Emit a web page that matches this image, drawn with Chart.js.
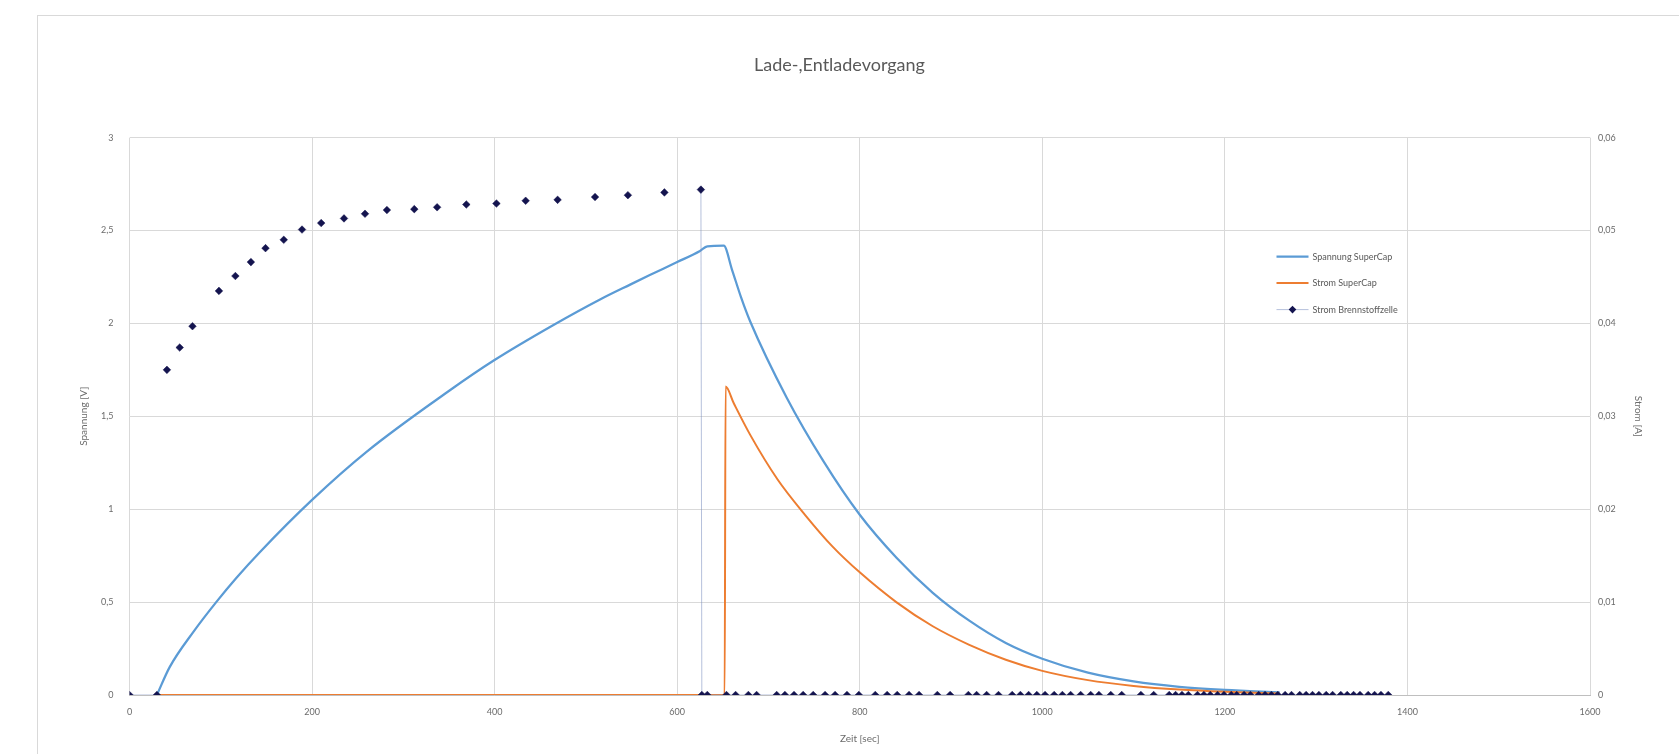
<!DOCTYPE html>
<html lang="de">
<head>
<meta charset="utf-8">
<title>Lade-,Entladevorgang</title>
<script src="https://cdn.jsdelivr.net/npm/chart.js@4.4.1/dist/chart.umd.min.js"></script>
<style>
  html, body { margin: 0; padding: 0; background: #fff; overflow: hidden; }
  #rahmen {
    position: absolute; left: 37px; top: 15px; width: 1700px; height: 800px;
    border-top: 1px solid #d9d9d9; border-left: 1px solid #d9d9d9;
  }
  #diagramm { position: absolute; left: 0; top: 0; }
</style>
</head>
<body>
<div id="rahmen"></div>
<canvas id="diagramm" width="1679" height="754"></canvas>
<script>
// =========================
// DATEN
// =========================
const xTicks = [0, 200, 400, 600, 800, 1000, 1200, 1400, 1600];
const yTicksSpannung = [0, 0.5, 1, 1.5, 2, 2.5, 3];
const yTicksStrom = [0, 0.01, 0.02, 0.03, 0.04, 0.05, 0.06];

// Spannung SuperCap [V]
const zeitSpannung = [30, 44, 70, 95, 117, 143, 200, 260, 351, 399, 464, 516, 549, 570, 600, 625, 633, 651,
  660, 670, 680, 720, 760, 800, 840, 880, 920, 960, 1000, 1050, 1100, 1150, 1200, 1260];
const spannung = [0, 0.15, 0.34, 0.50, 0.63, 0.77, 1.05, 1.31, 1.64, 1.80, 1.99, 2.13, 2.21, 2.26, 2.33, 2.39, 2.415, 2.418,
  2.29, 2.14, 2.01, 1.60, 1.26, 0.97, 0.74, 0.55, 0.40, 0.28, 0.195, 0.12, 0.073, 0.044, 0.027, 0.014];

// Strom SuperCap [A]
const zeitStromSC = [30, 652, 653, 662, 680, 710, 740, 770, 800, 840, 880, 920, 960, 1000, 1050, 1100, 1150, 1200, 1260];
const stromSC = [0, 0, 0.0332, 0.0314, 0.0280, 0.0232, 0.0194, 0.0160, 0.0132, 0.0100, 0.0074, 0.0054, 0.0038, 0.0026,
  0.0016, 0.00098, 0.00058, 0.00034, 0.00016];

// Strom Brennstoffzelle [A]
const zeitBZ = [0, 30, 41, 55, 69, 98, 116, 133, 149, 169, 189, 210, 235, 258, 282, 312, 337, 369, 402, 434, 469,
  510, 546, 586, 626,
  627, 633, 654, 664, 678, 687, 709, 718, 728, 738, 749, 762, 773, 786, 799, 817, 830, 841, 854, 865, 885, 899,
  919, 928, 939, 952, 967, 976, 985, 994, 1003, 1013, 1022, 1031, 1042, 1053, 1062, 1075, 1087, 1108, 1122,
  1139, 1146, 1153, 1160, 1170, 1177, 1184, 1192, 1199, 1207, 1213, 1221, 1228, 1237, 1244, 1251, 1258, 1266,
  1273, 1282, 1289, 1296, 1303, 1311, 1318, 1327, 1334, 1341, 1348, 1357, 1364, 1371, 1379];
const stromBZ = [0, 0, 0.0350, 0.0374, 0.0397, 0.0435, 0.0451, 0.0466, 0.0481, 0.0490, 0.0501, 0.0508, 0.0513,
  0.0518, 0.0522, 0.0523, 0.0525, 0.0528, 0.0529, 0.0532, 0.0533, 0.0536, 0.0538, 0.0541, 0.0544,
  0, 0, 0, 0, 0, 0, 0, 0, 0, 0, 0, 0, 0, 0, 0, 0, 0, 0, 0, 0, 0, 0,
  0, 0, 0, 0, 0, 0, 0, 0, 0, 0, 0, 0, 0, 0, 0, 0, 0, 0, 0,
  0, 0, 0, 0, 0, 0, 0, 0, 0, 0, 0, 0, 0, 0, 0, 0, 0, 0, 0,
  0, 0, 0, 0, 0, 0, 0, 0, 0, 0, 0, 0, 0, 0];

const punkte = (xs, ys) => xs.map((x, i) => ({ x: x, y: ys[i] }));
const komma = v => String(Number(v.toFixed(2))).replace(".", ",");

const FONT = "Lato, 'Open Sans', sans-serif";
const GRAU = "#6b6b6b";
const BZ_LINIE = "rgba(120,140,190,0.55)";

// =========================
// LEGENDE IM DIAGRAMM
// =========================
const legendeImDiagramm = {
  id: "legendeImDiagramm",
  afterDraw(chart) {
    const ctx = chart.ctx;
    const a = chart.chartArea;
    const x0 = a.left + 1147;
    ctx.save();
    ctx.font = "9px " + FONT;
    ctx.textBaseline = "middle";
    chart.data.datasets.forEach((ds, i) => {
      const y = a.top + 119 + i * 26.5;
      const bz = i === 2;
      ctx.strokeStyle = bz ? BZ_LINIE : ds.borderColor;
      ctx.lineWidth = bz ? 1 : ds.borderWidth;
      ctx.beginPath();
      ctx.moveTo(x0, y);
      ctx.lineTo(x0 + 32, y);
      ctx.stroke();
      if (bz) {
        ctx.fillStyle = ds.pointBackgroundColor;
        ctx.beginPath();
        ctx.moveTo(x0 + 16, y - 3.8);
        ctx.lineTo(x0 + 19.8, y);
        ctx.lineTo(x0 + 16, y + 3.8);
        ctx.lineTo(x0 + 12.2, y);
        ctx.closePath();
        ctx.fill();
      }
      ctx.fillStyle = "#595959";
      ctx.fillText(ds.label, x0 + 36, y);
    });
    ctx.restore();
  }
};

// =========================
// DIAGRAMM
// =========================
new Chart(document.getElementById("diagramm").getContext("2d"), {
  type: "scatter",
  data: {
    datasets: [
      {
        label: "Spannung SuperCap",
        data: punkte(zeitSpannung, spannung),
        yAxisID: "y",
        showLine: true,
        borderColor: "#5B9BD5",
        borderWidth: 2.25,
        pointRadius: 0,
        cubicInterpolationMode: "monotone",
        order: 2
      },
      {
        label: "Strom SuperCap",
        data: punkte(zeitStromSC, stromSC),
        yAxisID: "y2",
        showLine: true,
        borderColor: "#ED7D31",
        borderWidth: 2,
        pointRadius: 0,
        cubicInterpolationMode: "monotone",
        order: 1
      },
      {
        label: "Strom Brennstoffzelle",
        data: punkte(zeitBZ, stromBZ),
        yAxisID: "y2",
        showLine: true,
        borderColor: BZ_LINIE,
        borderWidth: 1,
        // die Verbindungslinie ist nur beim Abfall auf 0 und entlang der Nulllinie sichtbar
        segment: {
          borderColor: c => (c.p1.parsed.y > 0 ? "rgba(0,0,0,0)" : undefined)
        },
        pointStyle: "rectRot",
        pointRadius: 3.8,
        pointBackgroundColor: "#14144f",
        pointBorderColor: "#14144f",
        pointBorderWidth: 0.5,
        order: 0
      }
    ]
  },
  options: {
    responsive: false,
    animation: false,
    events: [],
    layout: { padding: 0 },
    plugins: {
      legend: { display: false },
      tooltip: { enabled: false },
      title: {
        display: true,
        text: "Lade-,Entladevorgang",
        color: "#595959",
        font: { family: FONT, size: 18, weight: "normal" },
        padding: { top: 54, bottom: 62 }
      }
    },
    scales: {
      x: {
        type: "linear",
        min: 0,
        max: 1600,
        afterBuildTicks: s => { s.ticks = xTicks.map(v => ({ value: v })); },
        afterFit: s => { s.height = 59; },
        grid: { color: "#d9d9d9", drawTicks: false },
        border: { color: "#bfbfbf" },
        ticks: { color: GRAU, padding: 12, font: { family: FONT, size: 9 }, callback: v => String(v) },
        title: {
          display: true,
          text: "Zeit [sec]",
          color: GRAU,
          font: { family: FONT, size: 10 },
          padding: { top: 0, bottom: 9 }
        }
      },
      y: {
        position: "left",
        min: 0,
        max: 3,
        afterBuildTicks: s => { s.ticks = yTicksSpannung.map(v => ({ value: v })); },
        afterFit: s => { s.width = 129.5; },
        grid: { color: "#d9d9d9", drawTicks: false },
        border: { display: false },
        ticks: { color: GRAU, padding: 16, font: { family: FONT, size: 9 }, callback: v => komma(v) },
        title: {
          display: true,
          text: "Spannung [V]",
          color: GRAU,
          font: { family: FONT, size: 10 },
          padding: { top: 78, bottom: 0 }
        }
      },
      y2: {
        position: "right",
        min: 0,
        max: 0.06,
        afterBuildTicks: s => { s.ticks = yTicksStrom.map(v => ({ value: v })); },
        afterFit: s => { s.width = 89; },
        grid: { display: false, drawTicks: false },
        border: { display: false },
        ticks: { color: GRAU, padding: 8, font: { family: FONT, size: 9 }, callback: v => komma(v) },
        title: {
          display: true,
          text: "Strom [A]",
          color: GRAU,
          font: { family: FONT, size: 10 },
          padding: { top: 35, bottom: 0 }
        }
      }
    }
  },
  plugins: [legendeImDiagramm]
});
</script>
</body>
</html>
